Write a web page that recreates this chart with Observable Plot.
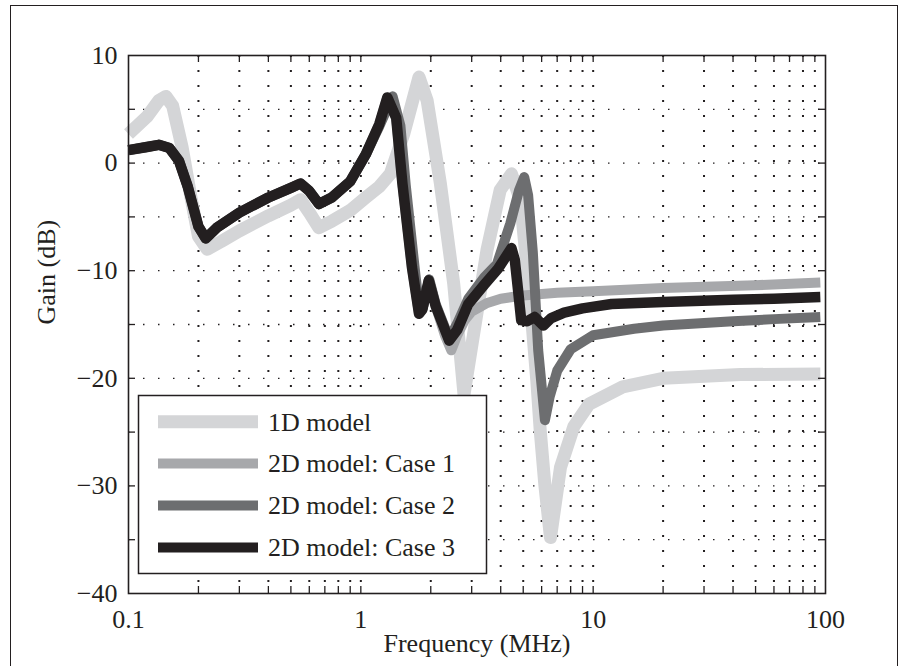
<!DOCTYPE html>
<html><head><meta charset="utf-8">
<script src="https://cdn.jsdelivr.net/npm/d3@7"></script>
<script src="https://cdn.jsdelivr.net/npm/@observablehq/plot@0.6"></script>
<style>
body{margin:0;background:#fff;}
#wrap{position:relative;width:900px;height:666px;overflow:hidden;background:#fff;font-family:"Liberation Serif","Times New Roman",serif;}
#border{position:absolute;left:10px;top:5px;width:888px;height:700px;border:1px solid #231f20;box-sizing:border-box;}
#wrap svg{position:absolute;left:0;top:0;}
</style></head>
<body><div id="wrap"><div id="border"></div></div>
<script>
// ---------- data ----------
const seriesNames = ["1D model", "2D model: Case 1", "2D model: Case 2", "2D model: Case 3"];

// 1D model
const freq1D = [0.1, 0.12, 0.135, 0.145, 0.155, 0.17, 0.185, 0.2, 0.218, 0.25, 0.3, 0.4, 0.5, 0.55, 0.6, 0.66, 0.75, 0.9, 1.05, 1.2, 1.34, 1.53, 1.78, 1.93, 2.2, 2.51, 2.78, 3.49, 3.98, 4.45, 4.87, 5.36, 5.72, 5.92, 6.2, 6.55, 7.23, 8.25, 9.6, 13.4, 20, 43, 95];
const gain1D = [2.7, 4.3, 5.8, 6.2, 5.3, 1.5, -3.0, -6.8, -8.0, -7.3, -6.3, -4.9, -3.9, -3.4, -4.6, -6.0, -5.4, -4.4, -3.2, -2.2, -1.0, 2.7, 8.0, 5.8, -1.9, -11.2, -21.5, -8.1, -2.5, -1.0, -3.5, -12.8, -20.2, -24.9, -30.0, -34.8, -28.3, -24.5, -22.4, -20.8, -20.0, -19.65, -19.6];

// 2D model: Case 1
const freqC1 = [0.1, 0.12, 0.135, 0.15, 0.165, 0.18, 0.2, 0.215, 0.24, 0.3, 0.4, 0.5, 0.55, 0.6, 0.66, 0.75, 0.9, 1.05, 1.2, 1.3, 1.42, 1.51, 1.66, 1.78, 1.84, 1.96, 2.1, 2.3, 2.45, 2.6, 2.8, 3.0, 3.5, 4.0, 5.0, 7.0, 10, 20, 50, 95];
const gainC1 = [1.2, 1.5, 1.7, 1.4, 0.2, -2.2, -5.9, -7.0, -6.0, -4.6, -3.2, -2.3, -1.9, -2.6, -3.8, -3.2, -1.7, 0.8, 3.6, 6.1, 4.2, -1.9, -9.7, -14.0, -13.6, -10.9, -13.3, -16.0, -17.4, -16.0, -14.6, -13.8, -13.0, -12.6, -12.3, -12.05, -11.9, -11.6, -11.35, -11.1];

// 2D model: Case 2
const freqC2 = [0.1, 0.12, 0.135, 0.15, 0.165, 0.18, 0.2, 0.215, 0.24, 0.3, 0.4, 0.5, 0.55, 0.6, 0.66, 0.75, 0.9, 1.05, 1.2, 1.37, 1.48, 1.56, 1.7, 1.79, 1.85, 1.97, 2.1, 2.4, 2.6, 2.9, 3.4, 3.85, 4.4, 4.8, 5.05, 5.25, 5.5, 5.8, 6.2, 6.5, 7.0, 8, 10, 15, 20, 40, 60, 95];
const gainC2 = [1.2, 1.5, 1.7, 1.4, 0.2, -2.2, -5.9, -7.0, -6.0, -4.6, -3.2, -2.3, -1.9, -2.6, -3.8, -3.2, -1.7, 0.8, 3.4, 6.2, 3.5, -2.0, -9.5, -13.8, -13.4, -10.8, -13.1, -16.3, -14.9, -12.6, -10.6, -9.4, -5.6, -2.5, -1.3, -3.0, -8.3, -17.4, -23.9, -21.7, -19.3, -17.3, -16.0, -15.4, -15.1, -14.7, -14.5, -14.3];

// 2D model: Case 3
const freqC3 = [0.1, 0.12, 0.135, 0.15, 0.165, 0.18, 0.2, 0.215, 0.24, 0.3, 0.4, 0.5, 0.55, 0.6, 0.66, 0.75, 0.9, 1.05, 1.2, 1.3, 1.42, 1.51, 1.66, 1.78, 1.84, 1.96, 2.1, 2.4, 2.6, 2.9, 3.4, 3.9, 4.45, 4.6, 4.75, 4.9, 5.2, 5.6, 6.1, 6.6, 7.5, 9, 12, 20, 40, 60, 95];
const gainC3 = [1.2, 1.5, 1.7, 1.4, 0.2, -2.2, -5.9, -7.0, -6.0, -4.6, -3.2, -2.3, -1.9, -2.6, -3.8, -3.2, -1.7, 0.8, 3.6, 6.1, 4.2, -1.9, -9.7, -14.0, -13.6, -10.9, -13.3, -16.5, -15.5, -13.1, -11.3, -9.8, -7.9, -9.0, -11.8, -14.6, -14.7, -14.3, -15.1, -14.4, -13.9, -13.5, -13.1, -12.9, -12.7, -12.6, -12.45];

// axis ticks
const xTickLabels = [0.1, 1, 10, 100];
const xMinorTicks = [0.2, 0.3, 0.4, 0.5, 0.6, 0.7, 0.8, 0.9, 1, 2, 3, 4, 5, 6, 7, 8, 9, 10, 20, 30, 40, 50, 60, 70, 80, 90];
const yTickLabels = [-40, -30, -20, -10, 0, 10];
const yTicks = [-35, -30, -25, -20, -15, -10, -5, 0, 5];

// ---------- styles ----------
const ink = "#231f20";
const colors = ["#d4d5d7", "#a7a8ab", "#6d6e70", "#231f20"];
const widths = [13, 10, 10, 10.5];

const freqs = [freq1D, freqC1, freqC2, freqC3];
const gains = [gain1D, gainC1, gainC2, gainC3];
const series = seriesNames.map((name, i) => ({
  name, color: colors[i], width: widths[i],
  data: freqs[i].map((f, j) => ({f, g: gains[i][j], name}))
}));

const fmt = d => d < 0 ? "\u2212" + Math.abs(d) : String(d);
const FONT = "'Liberation Serif', 'Times New Roman', serif";

const chart = Plot.plot({
  width: 900, height: 666,
  marginLeft: 128, marginRight: 75, marginTop: 55, marginBottom: 73,
  x: {type: "log", domain: [0.1, 100], label: null},
  y: {domain: [-40, 10], label: null},
  style: {fontFamily: FONT, fontSize: "26px", color: ink, background: "transparent", overflow: "visible"},
  marks: [
    Plot.ruleY(yTicks, {y: d => d, stroke: ink, strokeWidth: 1.3, strokeDasharray: "1.5,13.5"}),
    Plot.ruleX(xMinorTicks, {x: d => d, stroke: ink, strokeWidth: 2, strokeDasharray: "2,13"}),
    ...series.map(s => Plot.line(s.data, {x: "f", y: "g", stroke: s.color, strokeWidth: s.width, strokeLinejoin: "round", strokeLinecap: "butt"})),
    Plot.tickX(xMinorTicks, {x: d => d, insetTop: 531, stroke: ink, strokeWidth: 1.3}),
    Plot.tickX(xMinorTicks, {x: d => d, insetBottom: 531, stroke: ink, strokeWidth: 1.3}),
    Plot.tickY(yTicks, {y: d => d, insetRight: 690, stroke: ink, strokeWidth: 1.3}),
    Plot.tickY(yTicks, {y: d => d, insetLeft: 690, stroke: ink, strokeWidth: 1.3}),
    Plot.frame({stroke: ink, strokeWidth: 1.6}),
    Plot.axisX(xTickLabels, {tickSize: 0, tickPadding: 16, tickFormat: fmt, fontSize: 26, label: null, fill: ink}),
    Plot.axisY(yTickLabels, {tickSize: 0, tickPadding: 11, tickFormat: fmt, fontSize: 26, label: null, fill: ink}),
    Plot.text(["Frequency (MHz)"], {text: d => d, frameAnchor: "bottom", dy: 58, fontSize: 26, fill: ink}),
    Plot.text(["Gain (dB)"], {text: d => d, frameAnchor: "left", rotate: -90, dx: -82, fontSize: 26, fill: ink})
  ]
});
document.getElementById("wrap").appendChild(chart);

// ---------- legend ----------
const leg = d3.select("#wrap").append("svg").attr("width", 900).attr("height", 666);
leg.append("rect").attr("x", 138.5).attr("y", 395.5).attr("width", 348).attr("height", 178)
  .attr("fill", "white").attr("stroke", ink).attr("stroke-width", 1.5);
series.forEach((s, i) => {
  const cy = 421.7 + i * 41.9;
  leg.append("line").attr("x1", 158).attr("x2", 258).attr("y1", cy).attr("y2", cy)
    .attr("stroke", s.color).attr("stroke-width", i === 0 ? 13 : 10);
  leg.append("text").attr("x", 268).attr("y", cy + 8.8).attr("fill", ink)
    .style("font-family", FONT).style("font-size", "26px").text(s.name);
});
</script>
</body></html>
